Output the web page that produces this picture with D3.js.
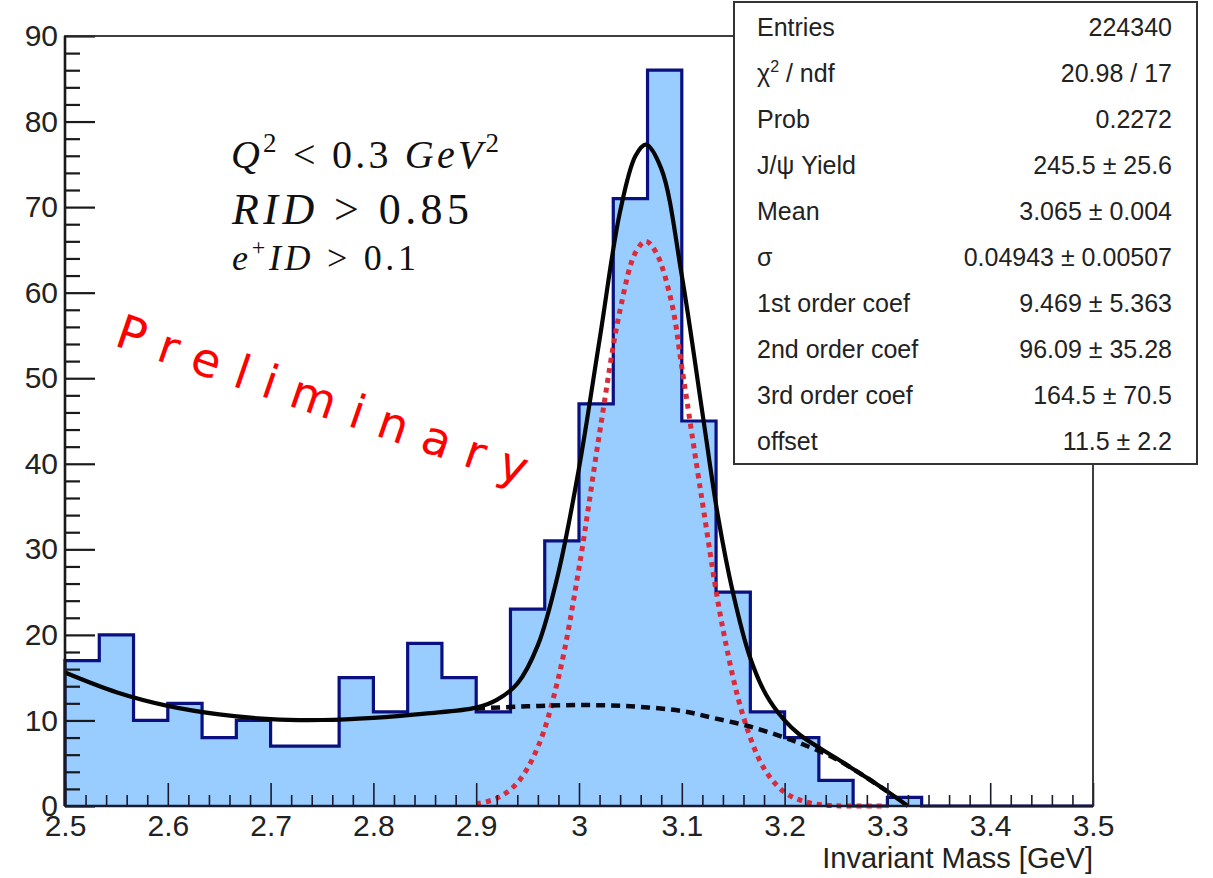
<!DOCTYPE html>
<html>
<head>
<meta charset="utf-8">
<script src="https://cdn.jsdelivr.net/npm/d3@7"></script>
<style>
  body { margin: 0; background: #fff; }
  svg { display: block; }
</style>
</head>
<body>
<svg id="chart" width="1213" height="878"></svg>
<script>
// ---- Histogram: 30 bins of 1/30 GeV between 2.5 and 3.5 GeV ----
const massRange = [2.5, 3.5];
const binCounts = [17, 20, 10, 12, 8, 10, 7, 7, 15, 11, 19, 15, 11, 23, 31,
                   47, 71, 86, 45, 25, 11, 8, 3, 0, 1, 0, 0, 0, 0, 0];

// ---- Fit curves (sampled along the drawn functions) ----
// Total fit: Gaussian signal + cubic background
const totalMass = [2.50, 2.55, 2.60, 2.65, 2.70, 2.75, 2.80, 2.85, 2.90, 2.92, 2.94, 2.96, 2.98, 3.00,
                   3.02, 3.04, 3.055, 3.065, 3.08, 3.10, 3.12, 3.135, 3.15, 3.166, 3.182, 3.20,
                   3.215, 3.25, 3.28, 3.30, 3.32];
const totalFit  = [15.6, 13.3, 11.7, 10.7, 10.15, 10.05, 10.3, 10.8, 11.5, 12.4, 14.3, 18.8, 27.3, 39.5,
                   54.5, 69.5, 76.0, 77.3, 74.5, 62.0, 46.0, 34.0, 24.8, 17.5, 13.0, 10.0,
                   8.3, 5.6, 3.3, 1.7, 0.0];
// Background component
const bkgMass = [2.90, 2.95, 3.00, 3.05, 3.10, 3.13, 3.166, 3.20, 3.22, 3.25, 3.28, 3.30];
const bkgFit  = [11.4, 11.65, 11.8, 11.65, 11.1, 10.3, 9.3, 8.0, 7.1, 5.5, 3.3, 1.7];
// J/psi signal component
const sigMass = [2.90, 2.92, 2.94, 2.96, 2.98, 3.00, 3.02, 3.04, 3.055, 3.065, 3.075, 3.09,
                 3.10, 3.12, 3.14, 3.16, 3.18, 3.20, 3.22, 3.24, 3.26, 3.30];
const sigFit  = [0.25, 0.9, 2.7, 6.9, 15.0, 27.8, 43.6, 58.0, 64.7, 66.0, 64.7, 58.9,
                 51.3, 35.5, 20.7, 10.4, 4.4, 1.6, 0.5, 0.1, 0.0, 0.0];

// ---- Axis ticks ----
const xMajorTicks = [2.5, 2.6, 2.7, 2.8, 2.9, 3.0, 3.1, 3.2, 3.3, 3.4, 3.5];
const xTickLabels = ["2.5", "2.6", "2.7", "2.8", "2.9", "3", "3.1", "3.2", "3.3", "3.4", "3.5"];
const xMinorStep = 0.02;
const yMajorTicks = [0, 10, 20, 30, 40, 50, 60, 70, 80, 90];
const yMinorStep = 2;
const xTitle = "Invariant Mass [GeV]";

// ---- Fit statistics box ----
const statNames  = ["Entries", "χ2 / ndf", "Prob", "J/ψ Yield", "Mean", "σ",
                    "1st order coef", "2nd order coef", "3rd order coef", "offset"];
const statValues = ["224340", "20.98 / 17", "0.2272", "245.5 ± 25.6", "3.065 ± 0.004",
                    "0.04943 ± 0.00507", "9.469 ± 5.363", "96.09 ± 35.28", "164.5 ± 70.5", "11.5 ± 2.2"];

const watermark = "Preliminary";

// ---------------------------------------------------------------
const svg = d3.select("#chart");
const frame = { left: 65, right: 1093, top: 36, bottom: 806 };

const x = d3.scaleLinear().domain(massRange).range([frame.left, frame.right]);
const y = d3.scaleLinear().domain([0, 90]).range([frame.bottom, frame.top]);

const nBins = binCounts.length;
const binWidth = (massRange[1] - massRange[0]) / nBins;

// step outline of the histogram
const steps = [[massRange[0], 0]];
binCounts.forEach((c, i) => {
  const lo = massRange[0] + i * binWidth, hi = lo + binWidth;
  steps.push([lo, c], [hi, c]);
});
steps.push([massRange[1], 0]);

const stepLine = d3.line().x(d => x(d[0])).y(d => y(d[1]));

const plot = svg.append("g");

plot.append("path")
  .attr("d", stepLine(steps) + "Z")
  .attr("fill", "#99ccff")
  .attr("stroke", "none");

plot.append("path")
  .attr("d", stepLine(steps))
  .attr("fill", "none")
  .attr("stroke", "#0a1080")
  .attr("stroke-width", 3.2)
  .attr("stroke-linejoin", "miter");

// ---- axes (ticks point into the frame) ----
const xMinor = d3.range(massRange[0], massRange[1] + 1e-9, xMinorStep)
  .filter(v => Math.abs(v * 10 - Math.round(v * 10)) > 1e-6);
const yMinor = d3.range(0, 90 + 1e-9, yMinorStep).filter(v => v % 10 !== 0);

const axisFont = "'Liberation Sans', Arial, Helvetica, sans-serif";

const gx = svg.append("g").attr("transform", `translate(0,${frame.bottom})`);
gx.append("g").call(d3.axisBottom(x).tickValues(xMinor).tickSizeInner(-11).tickSizeOuter(0).tickFormat(""));
gx.append("g").call(d3.axisBottom(x).tickValues(xMajorTicks).tickSizeInner(-23).tickSizeOuter(0)
  .tickPadding(9).tickFormat((d, i) => xTickLabels[i]));
gx.selectAll(".domain").remove();
gx.selectAll("line").attr("stroke", "#1a1a2e").attr("stroke-width", 1.6);
gx.selectAll("text").attr("font-family", axisFont).attr("font-size", 30).attr("fill", "#222");

const gy = svg.append("g").attr("transform", `translate(${frame.left},0)`);
gy.append("g").call(d3.axisLeft(y).tickValues(yMinor).tickSizeInner(-15).tickSizeOuter(0).tickFormat(""));
gy.append("g").call(d3.axisLeft(y).tickValues(yMajorTicks).tickSizeInner(-30).tickSizeOuter(0)
  .tickPadding(7).tickFormat(d3.format("d")));
gy.selectAll(".domain").remove();
gy.selectAll("line").attr("stroke", "#1a1a1a").attr("stroke-width", 2.2);
gy.selectAll("text").attr("font-family", axisFont).attr("font-size", 30).attr("fill", "#222");

// ---- fit curves ----
const curveLine = d3.line().x(d => x(d[0])).y(d => y(d[1])).curve(d3.curveCatmullRom.alpha(0.5));

plot.append("path")
  .attr("d", curveLine(sigMass.map((m, i) => [m, sigFit[i]])))
  .attr("fill", "none")
  .attr("stroke", "#d92b3a")
  .attr("stroke-width", 5)
  .attr("stroke-dasharray", "5,5");

plot.append("path")
  .attr("d", curveLine(bkgMass.map((m, i) => [m, bkgFit[i]])))
  .attr("fill", "none")
  .attr("stroke", "#0a0a14")
  .attr("stroke-width", 4.5)
  .attr("stroke-dasharray", "9,6");

plot.append("path")
  .attr("d", curveLine(totalMass.map((m, i) => [m, totalFit[i]])))
  .attr("fill", "none")
  .attr("stroke", "#050505")
  .attr("stroke-width", 4.2)
  .attr("stroke-linejoin", "round");

// ---- frame ----
svg.append("rect")
  .attr("x", frame.left).attr("y", frame.top)
  .attr("width", frame.right - frame.left).attr("height", frame.bottom - frame.top)
  .attr("fill", "none").attr("stroke", "#2a2a2a").attr("stroke-width", 1.8);
svg.append("line")
  .attr("x1", frame.left).attr("x2", frame.left).attr("y1", frame.top).attr("y2", frame.bottom)
  .attr("stroke", "#1a1a1a").attr("stroke-width", 2.6);
svg.append("line")
  .attr("x1", frame.left).attr("x2", frame.right).attr("y1", frame.bottom).attr("y2", frame.bottom)
  .attr("stroke", "#1a1a2e").attr("stroke-width", 2.6);

// ---- axis title ----
svg.append("text")
  .attr("x", frame.right).attr("y", 868)
  .attr("text-anchor", "end")
  .attr("font-family", axisFont).attr("font-size", 29).attr("fill", "#222")
  .text(xTitle);

// ---- selection cuts (math style) ----
const serif = "'Liberation Serif', 'DejaVu Serif', serif";
const cuts = svg.append("g").attr("font-family", serif).attr("fill", "#111");

const c1 = cuts.append("text").attr("x", 231).attr("y", 168).attr("font-size", 40)
  .attr("textLength", 268).attr("lengthAdjust", "spacing");
c1.append("tspan").attr("font-style", "italic").text("Q");
c1.append("tspan").attr("font-size", 27).attr("dy", -16).text("2");
c1.append("tspan").attr("dy", 16).text(" < 0.3 ");
c1.append("tspan").attr("font-style", "italic").text("GeV");
c1.append("tspan").attr("font-size", 27).attr("dy", -16).text("2");

const c2 = cuts.append("text").attr("x", 232).attr("y", 224).attr("font-size", 44)
  .attr("textLength", 237).attr("lengthAdjust", "spacing");
c2.append("tspan").attr("font-style", "italic").text("RID");
c2.append("tspan").text(" > 0.85");

const c3 = cuts.append("text").attr("x", 232).attr("y", 270).attr("font-size", 36)
  .attr("textLength", 184).attr("lengthAdjust", "spacing");
c3.append("tspan").attr("font-style", "italic").text("e");
c3.append("tspan").attr("font-size", 24).attr("dy", -15).text("+");
c3.append("tspan").attr("font-style", "italic").attr("dy", 15).text("ID");
c3.append("tspan").text(" > 0.1");

// ---- watermark ----
svg.append("text")
  .attr("transform", "translate(113,345) rotate(19)")
  .attr("font-family", "'DejaVu Sans', 'Open Sans', sans-serif")
  .attr("font-size", 47)
  .attr("fill", "#ff0000")
  .attr("textLength", 432)
  .attr("lengthAdjust", "spacing")
  .text(watermark);

// ---- statistics box ----
const box = svg.append("g");
box.append("rect")
  .attr("x", 734).attr("y", 2).attr("width", 463).attr("height", 462)
  .attr("fill", "#fff").attr("stroke", "#333").attr("stroke-width", 2);

const statFont = "'Liberation Sans', Arial, Helvetica, sans-serif";
statNames.forEach((name, i) => {
  const yy = 36 + i * 46;
  const t = box.append("text")
    .attr("x", 757).attr("y", yy)
    .attr("font-family", statFont).attr("font-size", 25).attr("fill", "#222");
  if (name.startsWith("χ2")) {
    t.append("tspan").text("χ");
    t.append("tspan").attr("font-size", 16).attr("dy", -10).text("2");
    t.append("tspan").attr("dy", 10).text(" / ndf");
  } else {
    t.text(name);
  }
  box.append("text")
    .attr("x", 1172).attr("y", yy)
    .attr("text-anchor", "end")
    .attr("font-family", statFont).attr("font-size", 25).attr("fill", "#222")
    .text(statValues[i]);
});
</script>
</body>
</html>
